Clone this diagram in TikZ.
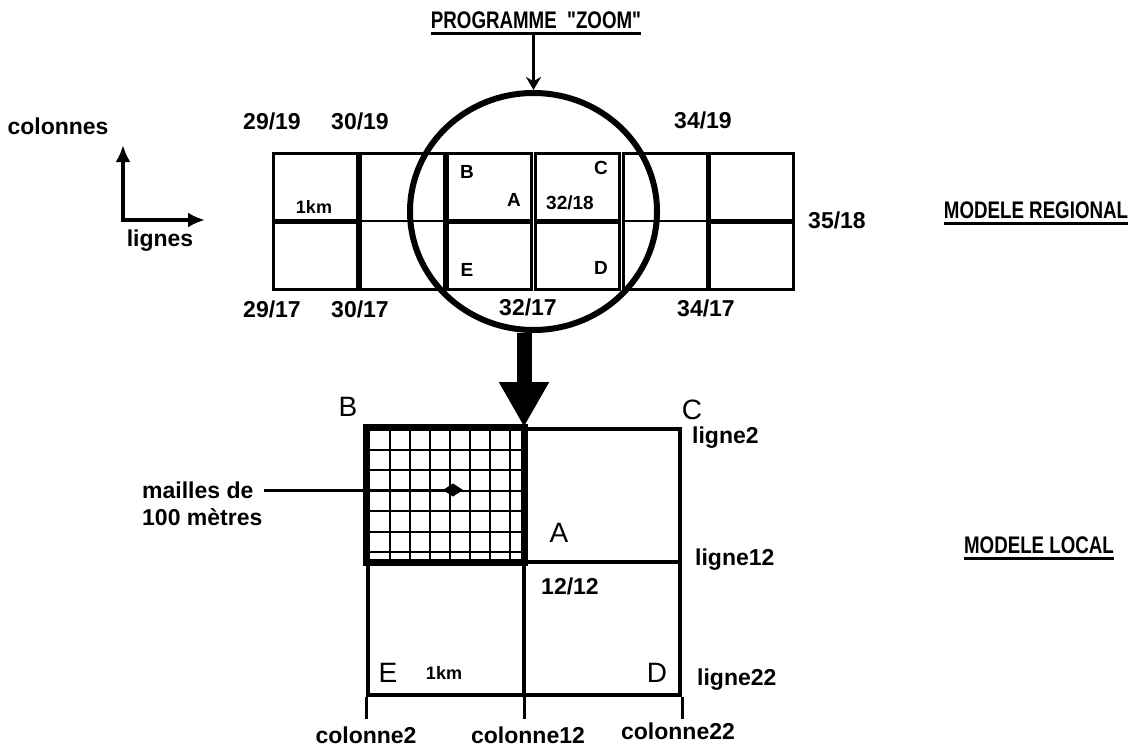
\documentclass[tikz,border=0pt]{standalone}
\usepackage{fontspec}
\setmainfont{Liberation Sans}
\newfontfamily\titfont{Liberation Sans}[FakeStretch=0.78]
\usetikzlibrary{arrows.meta,shapes.geometric}
\tikzset{
  lab/.style={inner sep=0pt, font=\fontsize{23}{23}\selectfont\bfseries},
  small/.style={inner sep=0pt, font=\fontsize{19}{19}\selectfont\bfseries},
  tiny/.style={inner sep=0pt, font=\fontsize{18}{18}\selectfont\bfseries},
  big/.style={inner sep=0pt, font=\fontsize{28}{28}\selectfont},
  titl/.style={inner sep=0pt, font=\titfont\fontsize{24}{24}\selectfont\bfseries},
  cell/.style={draw, line width=3pt, minimum width=84pt, minimum height=136pt, inner sep=0pt},
  thickmid/.style={line width=5pt},
  thinmid/.style={line width=2pt},
  meshline/.style={line width=2pt},
  frameline/.style={line width=4pt},
}
\begin{document}
\begin{tikzpicture}[x=1pt,y=-1pt]
\useasboundingbox (0,0) rectangle (1145,749);

% ---------- title and zoom circle ----------
\node[titl] (title) at (536,20) {PROGRAMME\ \ "ZOOM"};
\draw[line width=2.5pt] ([yshift=-5pt]title.base west) -- ([yshift=-5pt]title.base east);
\path ([yshift=-5pt]title.base) coordinate (tb);

% ---------- regional model cells ----------
\foreach \n/\x in {1/315.5,2/402.5,3/489.5,4/577.5,5/665,6/751}
  \node[cell] (r\n) at (\x,221) {};
\foreach \n in {1,3,4,6} \draw[thickmid] (r\n.west) -- (r\n.east);
\foreach \n in {2,5} \draw[thinmid] (r\n.west) -- (r\n.east);

\node[draw, ellipse, line width=6pt, minimum width=247pt, minimum height=237pt, inner sep=0pt] (zoom) at (533.5,211.5) {};
\draw[line width=2.5pt, -{Stealth[length=13pt,width=15pt]}] (tb -| zoom.north) -- (zoom.north);

% labels inside cells
\node[tiny]  (km1) at (314,207) {1km};
\node[small] (rB) at (467,172) {B};
\node[small] (rA) at (514,200) {A};
\node[small] (r3218) at (570,203) {32/18};
\node[small] (rC) at (601,168) {C};
\node[small] (rE) at (467,270) {E};
\node[small] (rD) at (601,268) {D};

% labels around cells
\node[lab] (l2919) at (272,121) {29/19};
\node[lab] (l3019) at (360,121) {30/19};
\node[lab] (l3419) at (703,120) {34/19};
\node[lab] (l2917) at (272,309) {29/17};
\node[lab] (l3017) at (360,309) {30/17};
\node[lab] (l3217) at (528,307) {32/17};
\node[lab] (l3417) at (706,308) {34/17};
\node[lab] (l3518) at (837,220) {35/18};

% axes
\node[lab] (col) at (58,126) {colonnes};
\node[lab] (lig) at (160,241) {lignes};
\coordinate (o) at (123,220);
\coordinate (yt) at (123,145);
\coordinate (xt) at (205,220);
\draw[line width=3.5pt, line join=miter, {Latex[length=17pt,width=15pt]}-{Latex[length=17pt,width=15pt]}] (yt) -- (o) -- (xt);

% titles on the right
\node[titl] (reg) at (1036,210) {MODELE REGIONAL};
\draw[line width=2.5pt] ([yshift=-5pt]reg.base west) -- ([yshift=-5pt]reg.base east);
\node[titl] (loctit) at (1039,545) {MODELE LOCAL};
\draw[line width=2.5pt] ([yshift=-5pt]loctit.base west) -- ([yshift=-5pt]loctit.base east);

% ---------- local model ----------
\node[draw, frameline, minimum width=312pt, minimum height=266pt, inner sep=0pt] (loc) at (524,562) {};
\foreach \x in {390,410,...,510} \draw[meshline] (\x,429) -- (\x,562);
\foreach \y in {449.5,470,490.5,511,531.5,552} \draw[meshline] (370,\y) -- (524,\y);
\draw[frameline] (loc.north) -- (loc.south);
\draw[frameline] (loc.west) -- (loc.east);
\draw[line width=7pt] (loc.north west) rectangle (loc.center);
\foreach \a in {south west,south,south east} \draw[line width=3pt] (loc.\a) -- ++(0,22);

\draw[line width=15pt, -{Triangle[length=45pt,width=47pt]}] (zoom.south -| loc.north) -- (loc.north);

\node[big] (lB) at (348,407) {B};
\node[big] (lC) at (692,410) {C};
\node[big] (lA) at (559,533) {A};
\node[big] (lE) at (388,673) {E};
\node[big] (lD) at (657,673) {D};
\node[tiny] (km2) at (444,673) {1km};
\node[lab] (l1212) at (570,586) {12/12};
\node[lab, anchor=west] (lg2) at (692,438) {ligne2};
\node[lab, anchor=west] (lg12) at (695,560) {ligne12};
\node[lab, anchor=west] (lg22) at (697,680) {ligne22};
\node[lab] (c2) at (366,735) {colonne2};
\node[lab] (c12) at (528,735) {colonne12};
\node[lab] (c22) at (678,731) {colonne22};

\node[lab, anchor=west] (m1) at (142,490) {mailles de};
\node[lab, anchor=west] (m2) at (142,517) {100 mètres};
\coordinate (mp) at (463,490);
\draw[line width=3pt, -{Diamond[length=20pt,width=13pt]}] ([xshift=10pt]m1.east) -- (mp);
\end{tikzpicture}
\end{document}
